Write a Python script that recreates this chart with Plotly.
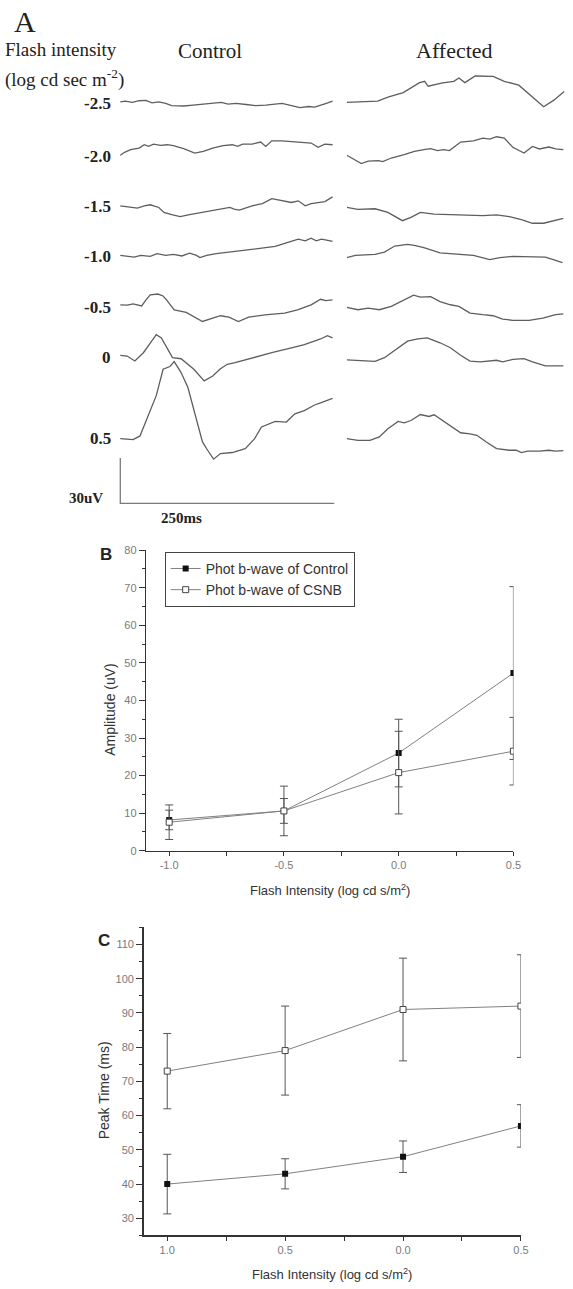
import plotly.graph_objects as go

W, H = 573, 1289


def px_x(x):
    return x / W


def px_y(y):
    return 1 - y / H


# ---------------- Panel A: ERG traces (time in ms, amplitude in uV) ----------------
intensity_labels = ["-2.5", "-2.0", "-1.5", "-1.0", "-0.5", "0", "0.5"]

control_t = [
    [0, 6, 14, 22, 30, 37, 45, 53, 60, 74, 85, 97, 108, 118, 126, 135, 147, 158, 170, 181, 189, 200, 210, 220, 227, 239, 248],
    [0, 5, 12, 22, 28, 33, 39, 47, 55, 62, 74, 87, 97, 108, 120, 131, 137, 143, 154, 164, 170, 177, 189, 200, 212, 223, 231, 239, 248],
    [0, 8, 20, 28, 35, 45, 51, 60, 70, 81, 97, 112, 128, 133, 139, 154, 166, 177, 189, 200, 208, 216, 223, 231, 239, 248],
    [0, 7, 16, 24, 35, 43, 53, 62, 72, 81, 89, 93, 101, 112, 128, 139, 147, 158, 170, 181, 193, 202, 208, 216, 223, 229, 235, 241, 248],
    [0, 8, 15, 25, 30, 35, 44, 50, 54, 63, 77, 96, 108, 117, 127, 138, 150, 169, 192, 207, 223, 230, 234, 240, 248],
    [0, 8, 17, 27, 35, 42, 48, 56, 61, 71, 86, 98, 108, 117, 125, 134, 154, 177, 200, 215, 234, 242, 248],
    [0, 15, 23, 33, 42, 50, 58, 63, 71, 79, 88, 96, 102, 109, 117, 131, 146, 157, 165, 181, 194, 204, 215, 227, 234, 248],
]
control_uv = [
    [0, 0.4, -0.4, 0.7, 0.9, -0.7, 0, -1.1, -2.6, -2.8, -2.2, -1.5, -1.1, -0.4, -1.5, -1.1, -1.8, -2.6, -2.2, -1.8, -1.1, -2.6, -3.9, -3.1, -3.5, -1.3, 0.4],
    [0, 2.0, 3.7, 4.8, 7.0, 5.9, 7.4, 6.6, 7.0, 6.4, 4.4, 1.5, 2.6, 4.8, 6.4, 7.0, 5.9, 7.4, 7.4, 8.8, 5.9, 9.6, 9.6, 9.2, 8.8, 8.1, 5.3, 7.4, 7.0],
    [0, -0.7, -1.5, 0, 0.7, -1.1, -4.4, -5.9, -7.2, -5.9, -4.4, -2.8, -1.1, -2.2, -2.8, 0, 1.5, 4.8, 3.3, 2.2, 3.3, 0, 1.5, 2.2, 2.8, 5.9],
    [0, -0.7, -1.1, 0, -0.7, 1.1, 0, 0.7, -0.4, 1.5, 0, -1.5, 0, 1.1, 2.2, 3.3, 3.7, 4.4, 5.0, 5.9, 8.1, 9.6, 10.7, 9.6, 11.4, 9.6, 10.7, 10.1, 9.2],
    [0, -0.2, 0.7, -0.7, 3.3, 6.6, 7.2, 5.9, 3.3, -3.3, -5.0, -11.0, -8.8, -7.2, -8.1, -11.0, -8.1, -6.6, -5.5, -3.3, 0, 2.2, 3.7, 2.8, 3.3],
    [0, -0.4, -3.7, 1.8, 8.1, 13.8, 11.6, 3.9, -1.5, -2.2, -9.2, -16.9, -13.6, -8.8, -5.9, -4.8, -1.5, 1.8, 5.0, 7.2, 10.9, 13.1, 11.6],
    [0, -0.7, 1.8, 16.4, 28.5, 46.0, 47.8, 51.0, 43.8, 33.9, 15.3, -2.2, -7.7, -13.6, -9.9, -9.2, -6.6, 0, 7.7, 11.4, 11.0, 16.4, 18.6, 22.3, 23.7, 26.7],
]

affected_t = [
    [0, 36, 49, 66, 85, 91, 95, 112, 125, 131, 138, 150, 171, 184, 201, 214, 230, 242, 254],
    [0, 8, 17, 25, 37, 42, 52, 67, 79, 90, 98, 106, 113, 120, 133, 148, 159, 167, 175, 184, 194, 207, 217, 225, 236, 244, 253],
    [0, 13, 33, 48, 65, 75, 86, 102, 121, 140, 159, 175, 190, 205, 217, 230, 244, 253],
    [0, 10, 33, 44, 56, 71, 79, 90, 109, 129, 148, 167, 179, 194, 213, 232, 244, 252],
    [0, 13, 25, 38, 52, 67, 78, 86, 98, 109, 121, 131, 144, 159, 171, 182, 194, 213, 229, 244, 253],
    [0, 33, 44, 58, 71, 83, 94, 109, 121, 133, 144, 156, 167, 175, 182, 194, 207, 217, 232, 253],
    [0, 13, 27, 38, 48, 60, 67, 75, 86, 96, 102, 109, 121, 133, 144, 152, 163, 175, 190, 198, 204, 211, 225, 236, 244, 253],
]
affected_uv = [
    [0, 0.9, 3.7, 6.5, 13.1, 14.0, 10.7, 12.9, 14.0, 16.2, 13.1, 17.5, 17.3, 14.0, 11.4, 4.8, -2.9, 1.5, 7.2],
    [0, -2.8, -5.5, -3.9, -3.5, -4.2, -1.8, 0.4, 2.6, 3.7, 4.4, 3.1, 3.7, 3.1, 8.8, 9.6, 11.4, 10.7, 12.3, 11.4, 5.3, 1.5, 5.9, 4.2, 5.5, 4.2, 3.7],
    [0, -1.3, -0.9, -3.3, -8.8, -6.6, -3.3, -4.4, -4.8, -5.0, -5.5, -5.0, -6.1, -8.3, -10.5, -10.5, -8.8, -7.2],
    [0, 1.5, 2.2, 3.7, 7.7, 8.8, 8.1, 6.6, 3.1, 2.2, 1.5, -1.3, 0, 0.9, 0.9, 0.4, -1.8, -3.3],
    [0, -1.5, -0.4, -1.5, 0.7, 5.0, 8.1, 6.8, 7.2, 3.9, 1.8, 0.7, -3.7, -4.8, -5.5, -7.7, -8.5, -8.5, -7.0, -4.8, -4.2],
    [0, -0.9, 1.5, 7.0, 12.5, 14.0, 14.7, 11.4, 8.1, 3.1, -0.7, -1.3, -0.9, -0.2, -1.3, 0.4, 0.9, -1.3, -3.9, -3.9],
    [0, -1.1, -1.1, 1.1, 6.6, 11.4, 10.5, 12.0, 16.0, 14.7, 15.8, 13.1, 8.8, 3.9, 3.1, 2.2, -2.2, -6.6, -7.7, -7.7, -9.2, -8.3, -8.3, -7.7, -8.3, -7.9],
]

scale_bar_uv = 30
scale_bar_ms = 250

# ---------------- Panel B / C data ----------------
intensity_x = [-1.0, -0.5, 0.0, 0.5]
b_tick_text = ["-1.0", "-0.5", "0.0", "0.5"]
c_tick_text = ["1.0", "0.5", "0.0", "0.5"]

amp_control = [8.2, 10.6, 26.0, 47.3]
amp_control_err = [2.6, 3.3, 9.0, 23.0]
amp_csnb = [7.6, 10.6, 20.8, 26.5]
amp_csnb_err = [4.6, 6.6, 11.0, 9.0]

peak_control = [40.0, 43.0, 48.0, 57.0]
peak_control_err = [8.7, 4.4, 4.6, 6.2]
peak_csnb = [73.0, 79.0, 91.0, 92.0]
peak_csnb_err = [11.0, 13.0, 15.0, 15.0]

# ---------------- layout constants (positions / styles) ----------------
PX_PER_UV = 1.523     # 30 uV scale bar ~ 45.7 px
PX_PER_MS = 217 / 250
A_TOP, A_BOTTOM = 60, 505
ctrl_x0 = 122
aff_x0 = 351.7
ctrl_base_px = [96.7, 150.7, 201.7, 251.7, 301.7, 352.7, 436.7]
aff_base_px = [97.3, 150.7, 203.3, 254.0, 304.3, 357.3, 436.7]
label_y_px = [98, 152, 202, 253, 304, 355, 437]
scale_base_px = 502

TRACE = "#5e5e5e"
SERIF = "Liberation Serif, Times New Roman, serif"
SANS = "Liberation Sans, Arial, sans-serif"


def base_uv(py):
    return (A_BOTTOM - py) / PX_PER_UV


fig = go.Figure()

for i in range(len(intensity_labels)):
    off = base_uv(ctrl_base_px[i])
    fig.add_trace(go.Scatter(
        x=control_t[i], y=[off + v for v in control_uv[i]],
        xaxis="x", yaxis="y", mode="lines",
        line=dict(color=TRACE, width=1.3), showlegend=False, hoverinfo="skip"))
    off2 = base_uv(aff_base_px[i])
    fig.add_trace(go.Scatter(
        x=affected_t[i], y=[off2 + v for v in affected_uv[i]],
        xaxis="x2", yaxis="y2", mode="lines",
        line=dict(color=TRACE, width=1.3), showlegend=False, hoverinfo="skip"))

sb = base_uv(scale_base_px)
fig.add_trace(go.Scatter(
    x=[0, 0, scale_bar_ms], y=[sb + scale_bar_uv, sb, sb],
    xaxis="x", yaxis="y", mode="lines",
    line=dict(color="#7a7a7a", width=1.3), showlegend=False, hoverinfo="skip"))

# Panel B
line_style = dict(color="#808080", width=1)
fig.add_trace(go.Scatter(
    x=intensity_x, y=amp_control, xaxis="x3", yaxis="y3", mode="lines+markers",
    name="Phot b-wave of Control", line=line_style,
    marker=dict(symbol="square", size=6, color="#111111"),
    error_y=dict(type="data", array=amp_control_err, color="#555", thickness=1, width=4)))
fig.add_trace(go.Scatter(
    x=intensity_x, y=amp_csnb, xaxis="x3", yaxis="y3", mode="lines+markers",
    name="Phot b-wave of CSNB", line=line_style,
    marker=dict(symbol="square", size=6, color="white", line=dict(color="#444", width=1)),
    error_y=dict(type="data", array=amp_csnb_err, color="#555", thickness=1, width=4)))

# Panel C
fig.add_trace(go.Scatter(
    x=intensity_x, y=peak_csnb, xaxis="x4", yaxis="y4", mode="lines+markers",
    line=line_style, showlegend=False,
    marker=dict(symbol="square", size=6, color="white", line=dict(color="#444", width=1)),
    error_y=dict(type="data", array=peak_csnb_err, color="#555", thickness=1, width=4)))
fig.add_trace(go.Scatter(
    x=intensity_x, y=peak_control, xaxis="x4", yaxis="y4", mode="lines+markers",
    line=line_style, showlegend=False,
    marker=dict(symbol="square", size=6, color="#111111"),
    error_y=dict(type="data", array=peak_control_err, color="#555", thickness=1, width=4)))

# ---------------- axes ----------------
a_ydom = [px_y(A_BOTTOM), px_y(A_TOP)]
a_yrange = [0, (A_BOTTOM - A_TOP) / PX_PER_UV]
ctrl_left, ctrl_right = 110, 345
aff_right = 573

hidden = dict(visible=False, showgrid=False, zeroline=False, fixedrange=True)

axis_common = dict(
    showline=True, linecolor="#333", linewidth=1.5, showgrid=False, zeroline=False,
    ticks="outside", tickcolor="#333", tickwidth=1,
    tickfont=dict(family=SANS, size=11, color="#7a7a7a"))

fig.update_layout(
    width=W, height=H, margin=dict(l=0, r=0, t=0, b=0),
    paper_bgcolor="white", plot_bgcolor="white",
    xaxis=dict(domain=[px_x(ctrl_left), px_x(ctrl_right)],
               range=[(ctrl_left - ctrl_x0) / PX_PER_MS, (ctrl_right - ctrl_x0) / PX_PER_MS],
               anchor="y", **hidden),
    yaxis=dict(domain=a_ydom, range=a_yrange, anchor="x", **hidden),
    xaxis2=dict(domain=[px_x(aff_x0), px_x(aff_right)],
                range=[0, (aff_right - aff_x0) / PX_PER_MS], anchor="y2", **hidden),
    yaxis2=dict(domain=a_ydom, range=a_yrange, anchor="x2", **hidden),
    xaxis3=dict(domain=[px_x(148.3), px_x(520.7)], range=[-1.1, 0.5], anchor="y3",
                tickmode="array", tickvals=intensity_x, ticktext=b_tick_text, ticklen=4,
                minor=dict(tickvals=[-0.75, -0.25, 0.25], ticks="outside", ticklen=4, tickcolor="#333"),
                **axis_common),
    yaxis3=dict(domain=[px_y(852.7), px_y(549.3)], range=[0, 80], anchor="x3",
                tickmode="linear", tick0=0, dtick=10, ticklen=6,
                minor=dict(tick0=0, dtick=5, ticks="outside", ticklen=3, tickcolor="#333"),
                **axis_common),
    xaxis4=dict(domain=[px_x(145.7), px_x(528.3)], range=[-1.1, 0.5], anchor="y4",
                tickmode="array", tickvals=intensity_x, ticktext=c_tick_text, ticklen=4,
                minor=dict(tickvals=[-0.75, -0.25, 0.25], ticks="outside", ticklen=4, tickcolor="#333"),
                **axis_common),
    yaxis4=dict(domain=[px_y(1241), px_y(930)], range=[25, 115], anchor="x4",
                tickmode="linear", tick0=0, dtick=10, ticklen=6,
                minor=dict(tick0=0, dtick=5, ticks="outside", ticklen=3, tickcolor="#333"),
                **axis_common),
    legend=dict(x=px_x(167), y=px_y(551), xanchor="left", yanchor="top",
                bordercolor="#444", borderwidth=1, bgcolor="white",
                font=dict(family=SANS, size=14, color="#333"),
                itemwidth=30, tracegroupgap=0),
)

# ---------------- text ----------------
ann = []


def add_text(text, x, y, size, family=SERIF, color="#222", xanchor="center",
             yanchor="middle", angle=0):
    ann.append(dict(text=text, x=px_x(x), y=px_y(y), xref="paper", yref="paper",
                    xanchor=xanchor, yanchor=yanchor, showarrow=False, textangle=angle,
                    font=dict(family=family, size=size, color=color)))


add_text("A", 25, 16, 30)
add_text("Flash intensity", 3, 44, 19, xanchor="left")
add_text("(log cd sec m<sup>-2</sup>)", 3, 73, 19, xanchor="left")
add_text("Control", 213, 45, 21)
add_text("Affected", 461, 45, 22)
for lab, ly in zip(intensity_labels, label_y_px):
    add_text("<b>%s</b>" % lab, 115, ly, 17, xanchor="right")
add_text("<b>30uV</b>", 106, 497, 15, xanchor="right")
add_text("<b>250ms</b>", 184, 517, 15)

add_text("<b>B</b>", 108, 554, 17, family=SANS, color="#222")
add_text("Amplitude (uV)", 112, 710, 14, family=SANS, color="#333", angle=-90)
add_text("Flash Intensity (log cd s/m<sup>2</sup>)", 335, 892, 13, family=SANS, color="#333")

add_text("<b>C</b>", 105, 943, 17, family=SANS, color="#222")
add_text("Peak Time (ms)", 105, 1095, 14, family=SANS, color="#333", angle=-90)
add_text("Flash Intensity (log cd s/m<sup>2</sup>)", 337, 1280, 13, family=SANS, color="#333")

fig.update_layout(annotations=ann)

fig.write_html(
    "out.html",
    config={"displayModeBar": False, "staticPlot": True},
    post_script="document.documentElement.style.margin='0';document.body.style.margin='0';"
                "document.body.style.padding='0';document.body.style.overflow='hidden';",
)
